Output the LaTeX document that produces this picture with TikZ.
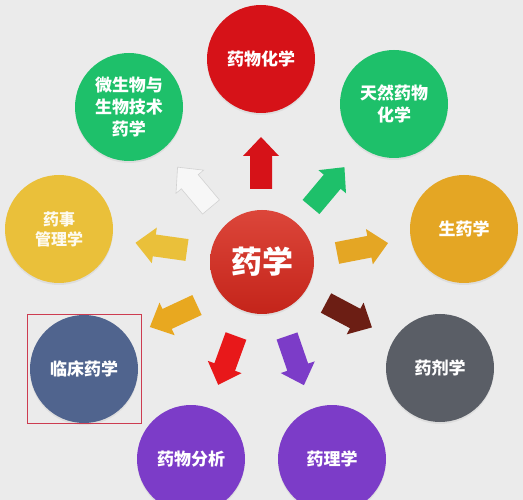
\documentclass[tikz,border=0pt]{standalone}
\usepackage{fontspec}
\newfontfamily\cjk{Noto Sans CJK SC}
\usetikzlibrary{shadows}
\definecolor{bg}{RGB}{235,235,235}
\definecolor{cred}{RGB}{214,18,24}
\definecolor{cgreen}{RGB}{30,192,106}
\definecolor{cyellow}{RGB}{234,192,58}
\definecolor{corange}{RGB}{228,166,36}
\definecolor{cgray}{RGB}{90,94,102}
\definecolor{cpurple}{RGB}{124,60,200}
\definecolor{cslate}{RGB}{80,100,142}
\definecolor{ctop}{RGB}{220,70,58}
\definecolor{cbot}{RGB}{196,36,26}
\definecolor{abrown}{RGB}{108,30,20}
\definecolor{agold}{RGB}{232,168,32}
\definecolor{ared}{RGB}{232,24,26}
\definecolor{boxred}{RGB}{205,60,80}
\tikzset{
  topic/.style={circle, minimum size=108pt, inner sep=0pt, text=white,
    align=center, font=\cjk\bfseries\fontsize{17}{22}\selectfont,
    drop shadow={opacity=0.12, shadow xshift=0pt, shadow yshift=-2pt}},
  blockarrow/.pic={
    \path[pic actions] (0,-11) -- (33,-11) -- (33,-18) -- (52,0) -- (33,18) -- (33,11) -- (0,11) -- cycle;
  }
}
\begin{document}
\begin{tikzpicture}[x=1pt,y=-1pt]
\fill[bg] (0,0) rectangle (523,500);
\useasboundingbox (0,0) rectangle (523,500);

% centre
\node[topic, minimum size=104pt, top color=ctop, bottom color=cbot,
      font=\cjk\bfseries\fontsize{31}{36}\selectfont] (yx) at (262,262) {药学};

% surrounding topics
\node[topic, fill=cred]    (ywhx) at (261,59)  {药物化学};
\node[topic, fill=cgreen]  (trhx) at (394,104) {天然药物\\化学};
\node[topic, fill=corange] (syx)  at (464,229) {生药学};
\node[topic, fill=cgray]   (yjx)  at (440,368) {药剂学};
\node[topic, fill=cpurple] (ylx)  at (332,459) {药理学};
\node[topic, fill=cpurple] (ywfx) at (191,459) {药物分析};
\node[topic, fill=cslate]  (lcyx) at (84,369)  {临床药学};
\node[topic, fill=cyellow, font=\cjk\bfseries\fontsize{16}{20}\selectfont,
      text=white!92!cyellow] (ysgl) at (59,229) {药事\\管理学};
\node[topic, fill=cgreen]  (wsw)  at (129,107) {微生物与\\生物技术\\药学};

% highlight box
\node[draw=boxred, line width=1pt, inner sep=0pt, minimum width=114pt,
      minimum height=108pt] (box) at (lcyx) {};

% arrows
\pic[fill=cred, rotate=90]    (a1) at (261,189) {blockarrow};
\pic[fill=cgreen, rotate=50]  (a2) at (311,207) {blockarrow};
\pic[fill=white!60!bg, draw=gray!35, line width=0.6pt, rotate=130] (a3) at (211,207) {blockarrow};
\pic[fill=cyellow, rotate=172] (a4) at (187,250) {blockarrow};
\pic[fill=corange, rotate=11] (a5) at (337,253) {blockarrow};
\pic[fill=agold, rotate=205]  (a6) at (197,305) {blockarrow};
\pic[fill=abrown, rotate=-28] (a7) at (326,303) {blockarrow};
\pic[fill=ared, rotate=-110]  (a8) at (236,336) {blockarrow};
\pic[fill=cpurple, rotate=-71] (a9) at (287,336) {blockarrow};
\end{tikzpicture}
\end{document}
